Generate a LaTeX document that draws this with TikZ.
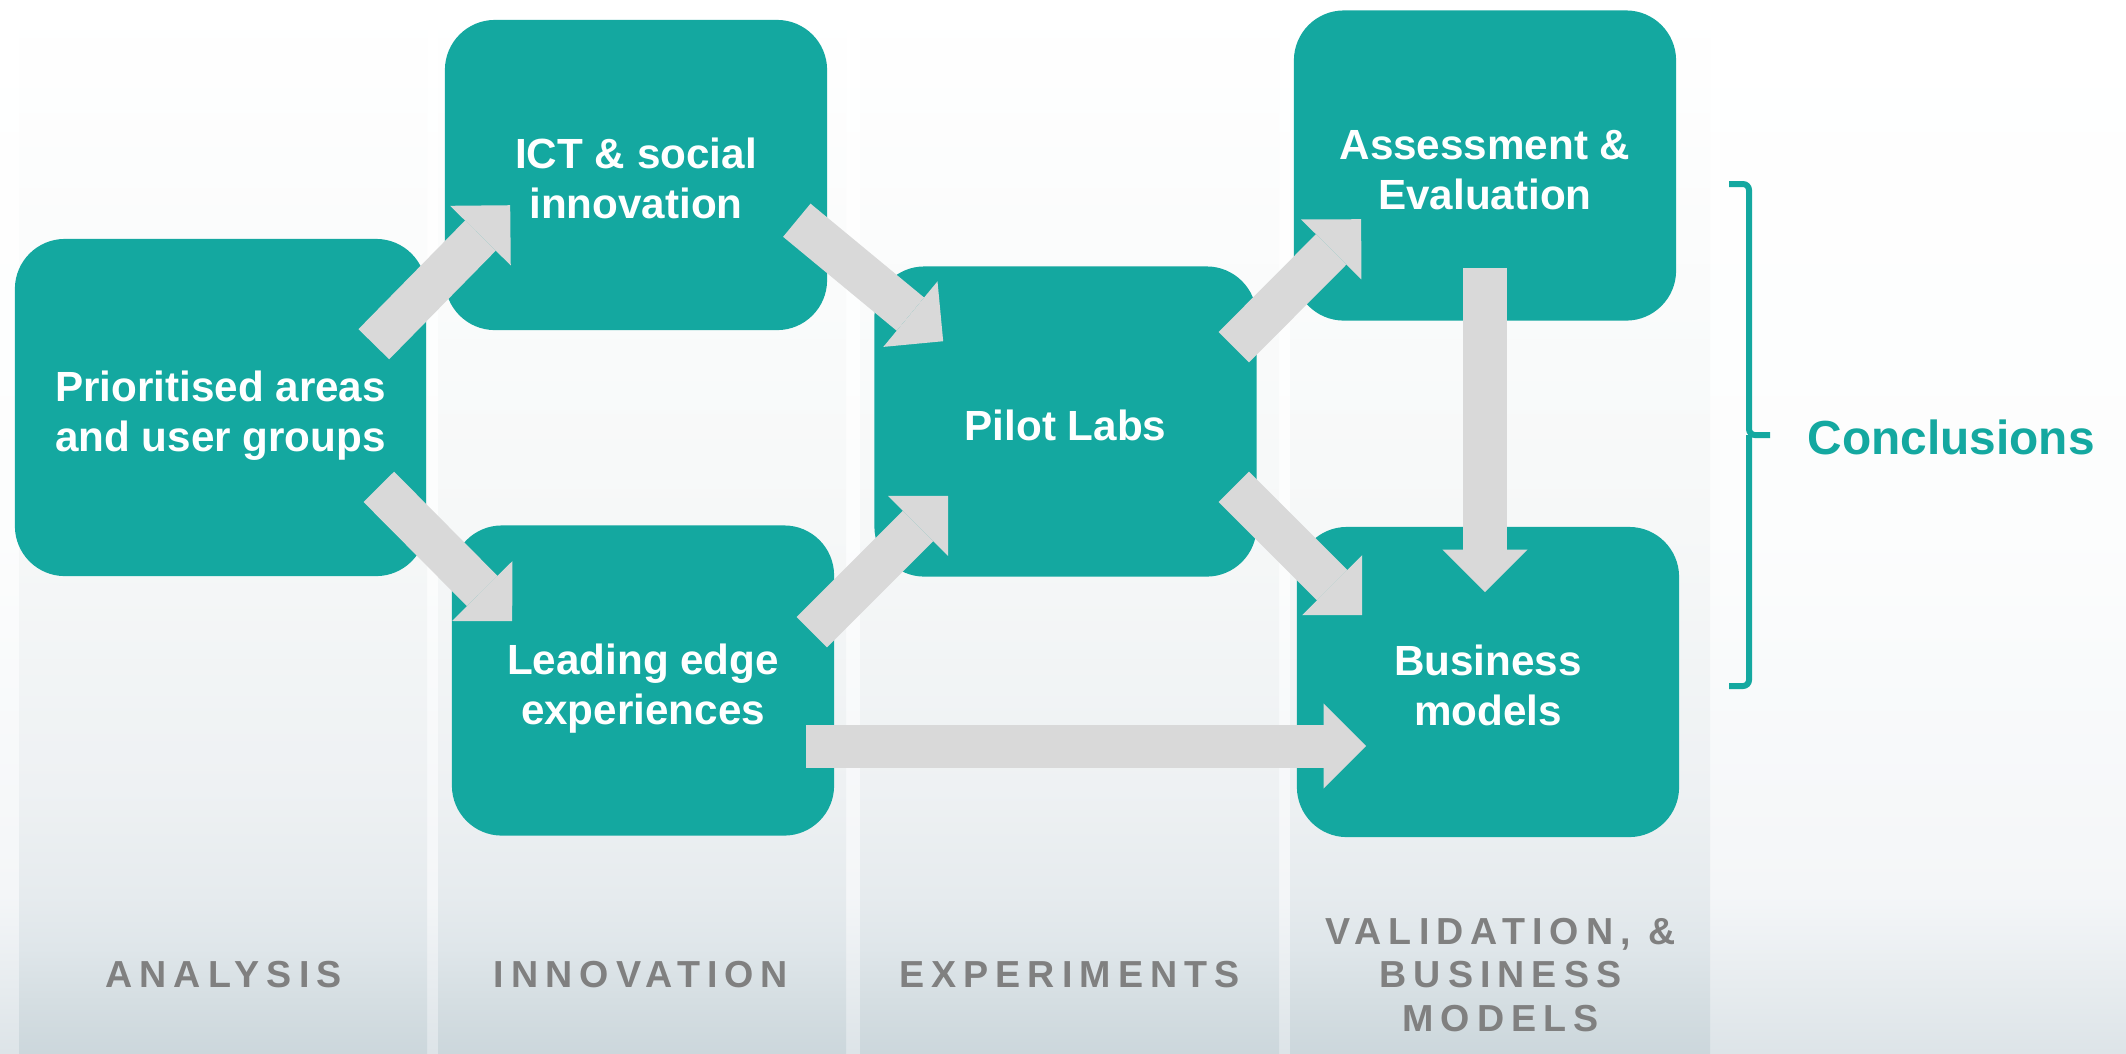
\documentclass[tikz,border=0pt]{standalone}
\usepackage{fontspec}
\setmainfont{Liberation Sans}
\newfontfamily\spacedfont[LetterSpace=18.8]{Liberation Sans}
\usetikzlibrary{arrows.meta}

\definecolor{boxteal}{HTML}{14A8A0}
\definecolor{arrowgray}{HTML}{D9D9D9}
\definecolor{labelgray}{HTML}{808080}
\definecolor{colA}{HTML}{CCD7DC}
\definecolor{colB}{HTML}{D5DEE2}
\definecolor{colC}{HTML}{DFE6EA}
\definecolor{colD}{HTML}{E6EBEE}
\definecolor{colE}{HTML}{EEF1F3}
\definecolor{colF}{HTML}{F6F8F8}
\definecolor{bgA}{HTML}{DDE4E8}
\definecolor{bgB}{HTML}{F4F6F8}
\definecolor{bgC}{HTML}{FCFDFD}

\pgfdeclareverticalshading{columnfade}{100bp}{color(0bp)=(colA); color(25bp)=(colA);
  color(27.5bp)=(colB); color(30bp)=(colC); color(32.5bp)=(colD); color(37.5bp)=(colE);
  color(50bp)=(colF); color(75bp)=(white); color(100bp)=(white)}
\pgfdeclareverticalshading{backfade}{100bp}{color(0bp)=(bgA); color(25bp)=(bgA);
  color(32.5bp)=(bgB); color(50bp)=(bgC); color(75bp)=(white); color(100bp)=(white)}

\newcommand{\linestrut}{\rule[-0.212em]{0pt}{1.312em}}

\tikzset{
  stage/.style={fill=boxteal, rounded corners=0.5cm, minimum width=3.82cm, minimum height=3.1cm,
    inner sep=0pt, align=center, text=white, font=\bfseries\fontsize{12}{14.2}\selectfont,
    execute at end node=\linestrut},
  flow/.style={draw=arrowgray, line width=0.43cm,
    -{Triangle[width=0.85cm, length=0.425cm, line width=0pt]}},
  phase/.style={text=labelgray, align=center, inner sep=0pt,
    font=\spacedfont\bfseries\fontsize{10.7}{12.5}\selectfont},
}

\begin{document}
\begin{tikzpicture}[x=0.01cm, y=-0.01cm]
\useasboundingbox (0,0) rectangle (2126,1053);
\shade[shading=backfade] (0,0) rectangle (2126,1053);
\foreach \l/\r in {19/427, 438/846, 860/1279, 1290/1710}
  \shade[shading=columnfade] (\l,0) rectangle (\r,1053);

\node[stage, minimum width=4.11cm, minimum height=3.37cm] (areas) at (220.5,407.5) {\linestrut Prioritised areas\\and user groups};
\node[stage] (ict) at (636,175) {\linestrut ICT \& social\\innovation};
\node[stage] (edge) at (643,680.5) {\linestrut Leading edge\\experiences};
\node[stage] (pilot) at (1065.5,421.5) {\linestrut Pilot Labs};
\node[stage] (assess) at (1485,165.5) {\linestrut Assessment \&\\Evaluation};
\node[stage] (business) at (1488,682) {\linestrut Business\\models};

\draw[flow] ([shift={(-53,106)}]areas.north east) -- ([shift={(66,186)}]ict.north west);
\draw[flow] ([shift={(-31,201)}]ict.north east) -- ([shift={(69.5,75.5)}]pilot.north west);
\draw[flow] ([shift={(-48,-90)}]areas.south east) -- ([shift={(61,96.5)}]edge.north west);
\draw[flow] ([shift={(-23,107.5)}]edge.north east) -- ([shift={(74.5,-81.5)}]pilot.south west);
\draw[flow] ([shift={(-23.5,81.5)}]pilot.north east) -- ([shift={(68,209.5)}]assess.north west);
\draw[flow] ([shift={(-23.5,-90.5)}]pilot.south east) -- ([shift={(66,89)}]business.north west);
\draw[flow] ([shift={(0,-53.5)}]assess.south) -- ([shift={(-3,66)}]business.north);
\draw[flow] ([shift={(-29,65.5)}]edge.east) -- ([shift={(70,64)}]business.west);

\node[phase] (analysis) at (223.5,974.5) {ANALYSIS};
\node[phase] (innovation) at (641,974.5) {INNOVATION};
\node[phase] (experiments) at (1069.5,974.5) {EXPERIMENTS};
\node[phase] (validation) at (1500.5,975) {VALIDATION, \&\\BUSINESS\\MODELS};

\draw[boxteal, line width=0.06cm, rounded corners=0.06cm]
  (1729,184) -| (1749,435) -- (1770,435) (1749,435) |- (1729,686);
\node[anchor=base west, inner sep=0pt, text=boxteal, font=\bfseries\fontsize{13.6}{16}\selectfont]
  (conclusions) at (1807,454) {Conclusions};
\end{tikzpicture}
\end{document}
